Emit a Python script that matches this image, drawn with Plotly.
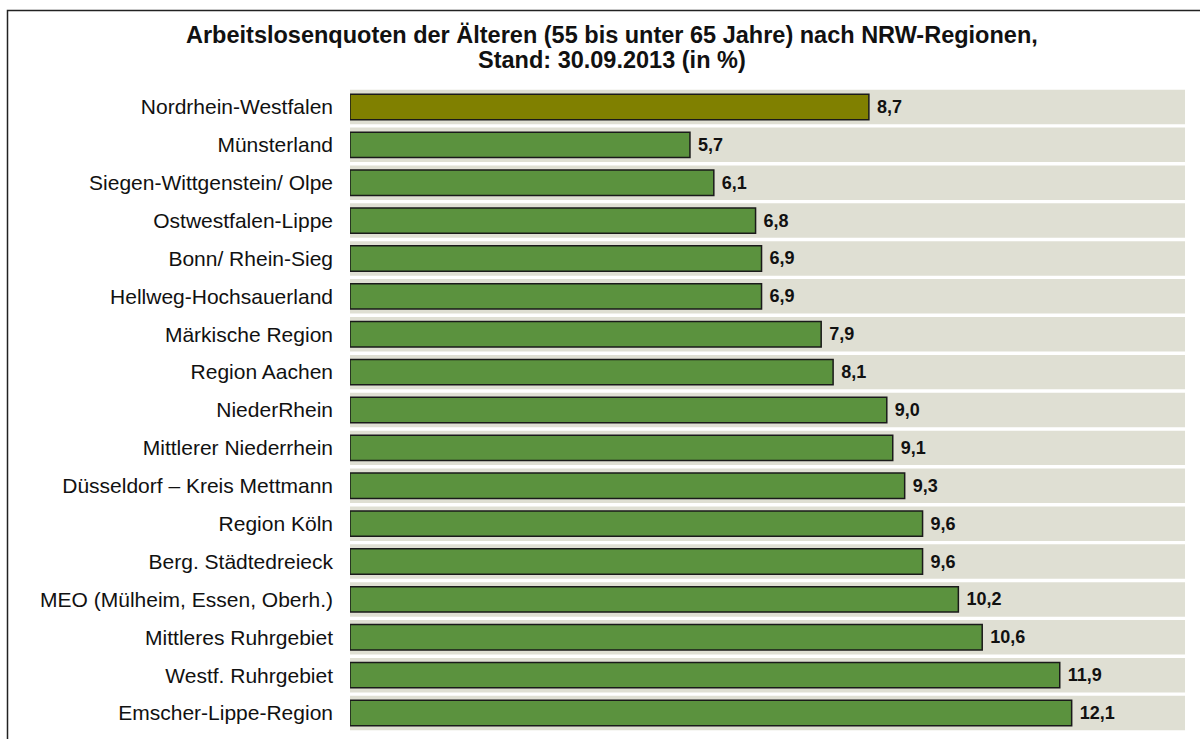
import plotly.graph_objects as go

regions = [
    "Nordrhein-Westfalen",
    "Münsterland",
    "Siegen-Wittgenstein/ Olpe",
    "Ostwestfalen-Lippe",
    "Bonn/ Rhein-Sieg",
    "Hellweg-Hochsauerland",
    "Märkische Region",
    "Region Aachen",
    "NiederRhein",
    "Mittlerer Niederrhein",
    "Düsseldorf – Kreis Mettmann",
    "Region Köln",
    "Berg. Städtedreieck",
    "MEO (Mülheim, Essen, Oberh.)",
    "Mittleres Ruhrgebiet",
    "Westf. Ruhrgebiet",
    "Emscher-Lippe-Region",
]
quoten = [8.7, 5.7, 6.1, 6.8, 6.9, 6.9, 7.9, 8.1, 9.0, 9.1, 9.3, 9.6, 9.6, 10.2, 10.6, 11.9, 12.1]
axis_max = 14
title_lines = [
    "Arbeitslosenquoten der Älteren (55 bis unter 65 Jahre) nach NRW-Regionen,",
    "Stand: 30.09.2013 (in %)",
]

bar_colors = ["#808000"] + ["#5B923E"] * (len(regions) - 1)

W, H = 1200, 739
L, R, T, B = 350, 15, 88, 7
pw, ph = W - L - R, H - T - B
FONT = "Liberation Sans, Arial, sans-serif"

fig = go.Figure()
fig.add_trace(go.Bar(
    y=regions, x=[axis_max] * len(regions), orientation="h",
    marker=dict(color="#DFDFD3", line=dict(width=0)),
    width=0.91, hoverinfo="skip", showlegend=False,
))
fig.add_trace(go.Bar(
    y=regions, x=quoten, orientation="h",
    marker=dict(color=bar_colors, line=dict(color="#1a1a1a", width=1.5)),
    width=0.67, showlegend=False,
    texttemplate=" <b>%{x:.1f}</b>", textposition="outside",
    textfont=dict(family=FONT, size=18, color="#111"),
    cliponaxis=False,
))

def px_x(p):
    return (p - L) / pw

def px_y(p):
    return (H - B - p) / ph

title_y = [34.5, 59.5]
annotations = [
    dict(text=f"<b>{t}</b>", xref="paper", yref="paper",
         x=px_x(612), y=px_y(yy), xanchor="center", yanchor="middle",
         showarrow=False, font=dict(family=FONT, size=23.5, color="#111"))
    for t, yy in zip(title_lines, title_y)
]

fig.update_layout(
    width=W, height=H,
    margin=dict(l=L, r=R, t=T, b=B, autoexpand=False),
    paper_bgcolor="white", plot_bgcolor="white",
    barmode="overlay",
    separators=",.",
    font=dict(family=FONT, color="#111"),
    annotations=annotations,
    xaxis=dict(range=[0, axis_max], visible=False, fixedrange=True),
    yaxis=dict(
        autorange="reversed", showgrid=False, zeroline=False, showline=False,
        ticks="", ticklabelstandoff=16,
        tickfont=dict(size=21, color="#111"),
    ),
    shapes=[dict(
        type="rect", xref="paper", yref="paper",
        x0=px_x(7.5), x1=px_x(1210), y0=px_y(760), y1=px_y(10.5),
        line=dict(color="#222", width=1.5), fillcolor="rgba(0,0,0,0)",
        layer="above",
    )],
)

fig.write_html(
    "out.html",
    config={"displayModeBar": False},
    post_script="document.body.style.margin='0';document.body.style.overflow='hidden';",
)
